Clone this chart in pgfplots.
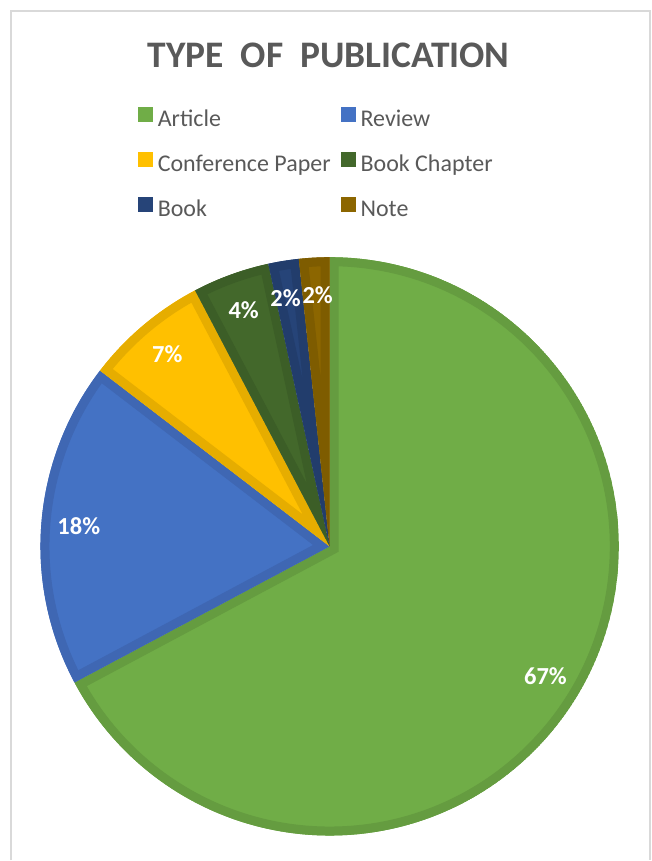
\documentclass[border=0pt]{standalone}
\usepackage{pgfplots}
\pgfplotsset{compat=1.18}
\usepackage{fontspec}
\setmainfont{Carlito}

\definecolor{textgray}{HTML}{595959}
\definecolor{framegray}{HTML}{D9D9D9}
\definecolor{artfill}{HTML}{70AD47}\definecolor{artline}{HTML}{659C40}
\definecolor{revfill}{HTML}{4472C4}\definecolor{revline}{HTML}{3F67B3}
\definecolor{conffill}{HTML}{FFC000}\definecolor{confline}{HTML}{E6AD00}
\definecolor{chapfill}{HTML}{43682B}\definecolor{chapline}{HTML}{3C5E27}
\definecolor{bookfill}{HTML}{264478}\definecolor{bookline}{HTML}{223D6C}
\definecolor{notefill}{HTML}{8C6600}\definecolor{noteline}{HTML}{7E5C00}

\newcommand\labelfont{\fontsize{24.5bp}{28bp}\selectfont\bfseries}

% pie centre and radius in axis units (1 unit = 1bp)
\def\cx{330}\def\cy{314}\def\R{289.5}
\def\cum{0}
\def\alllabels{}

% [#1] label x nudge, #2 name, #3 share in percent, #4 fill, #5 border
\newcommand\pubslice[5][0]{%
  \pgfmathsetmacro\sa{90-3.6*\cum}%
  \pgfmathsetmacro\sb{90-3.6*(\cum+#3)}%
  \pgfmathsetmacro\sm{(\sa+\sb)/2}%
  \pgfmathsetmacro\lx{\cx+252*cos(\sm)+#1}%
  \pgfmathsetmacro\ly{\cy+252*sin(\sm)}%
  \pgfmathsetmacro\px{\cx+\R*cos(\sa)}%
  \pgfmathsetmacro\py{\cy+\R*sin(\sa)}%
  \pgfmathtruncatemacro\lab{round(#3)}%
  \edef\doslice{%
    \noexpand\pgfplotsextra{%
      \noexpand\begin{scope}
        \noexpand\clip (axis cs:\cx,\cy) -- (axis cs:\px,\py)
          arc[start angle=\sa, end angle=\sb, radius=\R bp] -- cycle;
        \noexpand\fill[#4] (axis cs:\cx,\cy) -- (axis cs:\px,\py)
          arc[start angle=\sa, end angle=\sb, radius=\R bp] -- cycle;
        \noexpand\draw[#5, line width=18bp] (axis cs:\cx,\cy) -- (axis cs:\px,\py)
          arc[start angle=\sa, end angle=\sb, radius=\R bp] -- cycle;
      \noexpand\end{scope}}%
  }%
  \doslice
  \xdef\alllabels{\unexpanded\expandafter{\alllabels}%
    \noexpand\node[text=white, font=\noexpand\labelfont, inner sep=0pt]
      at (axis cs:\lx,\ly) {\lab\noexpand\%};}%
  \addlegendimage{fill=#4}%
  \addlegendentry{#2}%
  \pgfmathsetmacro\cum{\cum+#3}%
}

\begin{document}
\begin{tikzpicture}
\begin{axis}[
  x=1bp, y=1bp, xmin=0, xmax=652, ymin=0, ymax=861,
  scale only axis, hide axis, clip=false,
  legend cell align=left,
  legend columns=2,
  legend image code/.code={\fill[#1, draw=none] (0bp,-0.5bp) rectangle (15bp,14.5bp);},
  legend style={draw=none, fill=none, inner sep=0pt, outer sep=0pt,
    at={(axis cs:138,754)}, anchor=north west,
    font=\fontsize{24bp}{28bp}\selectfont, text=textgray,
    nodes={inner sep=0pt, text height=16bp, text depth=5bp, text=textgray},
    row sep=20bp,
    /tikz/every odd column/.append style={column sep=5bp},
    /tikz/every even column/.append style={column sep=10bp}},
]
  \path (axis cs:0,0) rectangle (axis cs:652,861);
  \draw[framegray, line width=2bp] (axis cs:11,0) |- (axis cs:651,850) -- (axis cs:651,0);

  \pubslice{Article}{67.2}{artfill}{artline}
  \pubslice{Review}{18.2}{revfill}{revline}
  \pubslice{Conference Paper}{6.9}{conffill}{confline}
  \pubslice{Book Chapter}{4.3}{chapfill}{chapline}
  \pubslice[-4]{Book}{1.7}{bookfill}{bookline}
  \pubslice[1.5]{Note}{1.7}{notefill}{noteline}

  \alllabels

  \node[anchor=base, text=textgray, font=\fontsize{37.5bp}{42bp}\selectfont\bfseries]
    at (axis cs:329,793) {TYPE\ \ OF\ \ PUBLICATION};
\end{axis}
\end{tikzpicture}
\end{document}
